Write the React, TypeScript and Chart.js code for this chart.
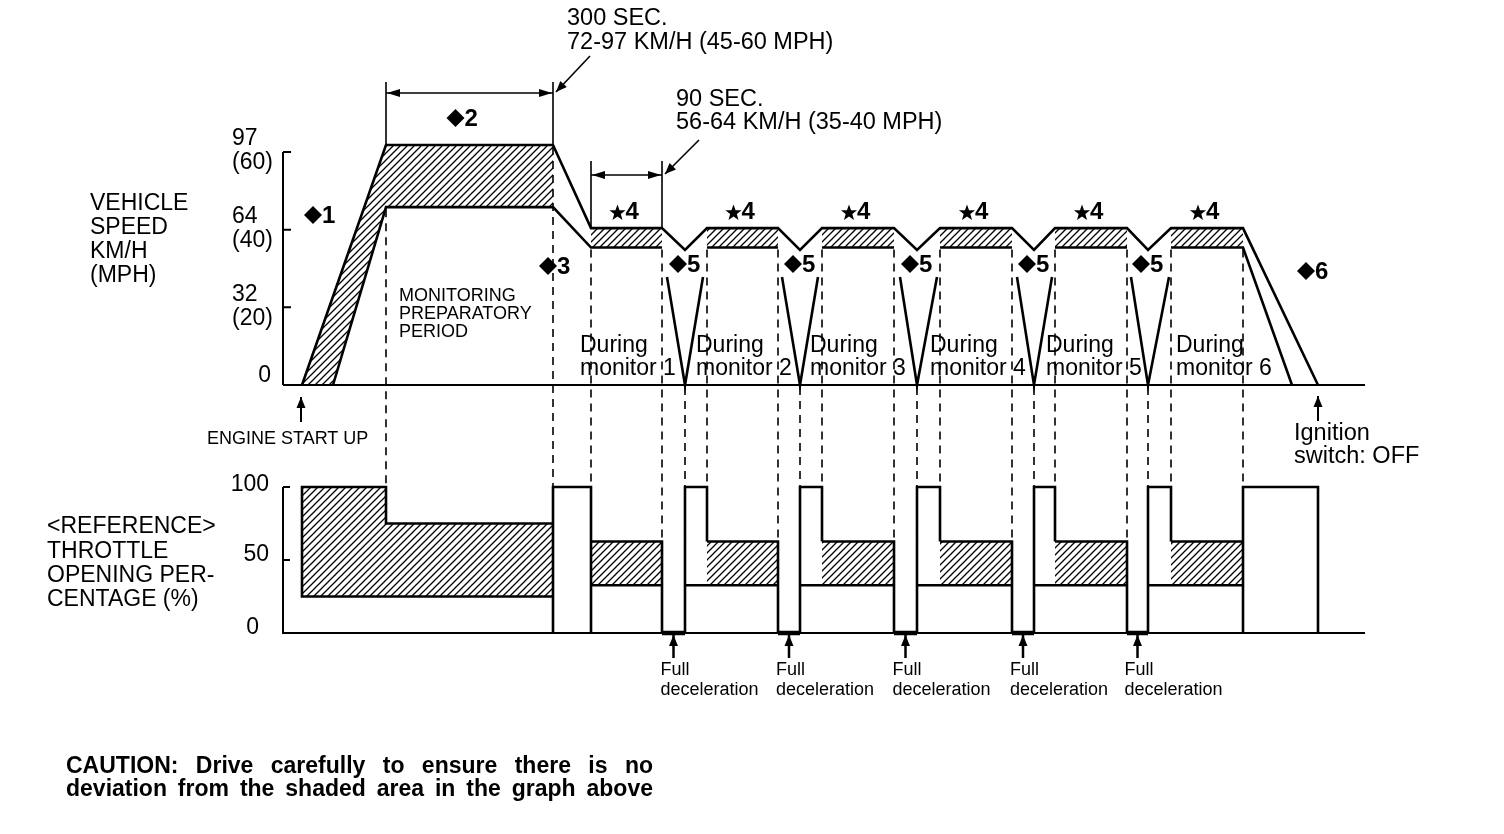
import React, { useEffect, useRef } from "react";
import { Chart, registerables } from "chart.js";
Chart.register(...registerables);

// ---------- time axis (arbitrary drive-cycle time units) ----------
const X_MAX = 1082;
const engineStart = 19;
const rampInnerStart = 50;
const prepStart = 103;
const prepEnd = 270;
const bandStart = [308, 424, 539, 657, 772, 888];
const bandEnd = [379, 495, 611, 729, 844, 960];
const decelBottom = [402, 517, 634, 751, 865];
const decelLeft = [384, 499, 617, 734, 848];
const decelRight = [420, 535, 654, 769, 886];
const stopInnerEnd = 1009;
const ignitionOff = 1035;

// ---------- vehicle speed (MPH) ----------
const prepSpeedHigh = 61.8;
const prepSpeedLow = 45.8;
const monitorSpeedHigh = 40.4;
const monitorSpeedLow = 35.4;
const dipSpeed = 34.8;
const decelTopSpeed = 27.8;

// ---------- throttle opening (%) ----------
const warmThrottleHigh = 100;
const prepThrottleHigh = 75;
const prepThrottleLow = 25;
const monitorThrottleHigh = 62.7;
const monitorThrottleLow = 32.7;
const fullThrottle = 100;

// ---------- ticks ----------
const speedTicksMph = [60, 40, 20];
const speedTickKmh = ["97", "64", "32"];
const speedTickMphLabel = ["(60)", "(40)", "(20)"];
const throttleTicks = [100, 50, 0];

// ---------- text ----------
const speedTitle = ["VEHICLE", "SPEED", "KM/H", "(MPH)"];
const throttleTitle = ["<REFERENCE>", "THROTTLE", "OPENING PER-", "CENTAGE (%)"];
const prepText = ["MONITORING", "PREPARATORY", "PERIOD"];
const cautionLines = [
  "CAUTION: Drive carefully to ensure there is no",
  "deviation from the shaded area in the graph above",
];

// ---------- layout ----------
const W = 1504, H = 834;
const PLOT_LEFT = 283, PLOT_RIGHT = 1365;
const SPEED_ZERO_Y = 385, SPEED_60_Y = 152;
const THR_ZERO_Y = 633, THR_100_Y = 487;
const FONT = '"Liberation Sans", Arial, "DejaVu Sans", sans-serif';
const monitorLabelOffset = [-11, -11, -12, -10, -9, 5];

type Pt = { x: number; y: number | null };
const P = (x: number, y: number | null): Pt => ({ x, y });

function makeHatch(): CanvasPattern | string {
  const c = document.createElement("canvas");
  c.width = 7;
  c.height = 7;
  const g = c.getContext("2d");
  if (!g) return "#888";
  g.strokeStyle = "#000";
  g.lineWidth = 1.3;
  g.beginPath();
  g.moveTo(-1, 8);
  g.lineTo(8, -1);
  g.moveTo(-1, 1);
  g.lineTo(1, -1);
  g.moveTo(6, 8);
  g.lineTo(8, 6);
  g.stroke();
  return g.createPattern(c, "repeat") || "#888";
}

function buildData() {
  // upper speed outline
  const speedOuter: Pt[] = [P(engineStart, 0), P(prepStart, prepSpeedHigh), P(prepEnd, prepSpeedHigh)];
  bandStart.forEach((s, i) => {
    speedOuter.push(P(s, monitorSpeedHigh), P(bandEnd[i], monitorSpeedHigh));
    if (i < decelBottom.length) speedOuter.push(P(decelBottom[i], dipSpeed));
  });
  speedOuter.push(P(ignitionOff, 0));

  // lower speed outline
  const speedInner: Pt[] = [P(rampInnerStart, 0), P(prepStart, prepSpeedLow), P(prepEnd, prepSpeedLow)];
  bandStart.forEach((s, i) => {
    speedInner.push(P(s, monitorSpeedLow), P(bandEnd[i], monitorSpeedLow));
    if (i < bandStart.length - 1) speedInner.push(P(bandEnd[i], null));
  });
  speedInner.push(P(stopInnerEnd, 0));

  // full deceleration V's
  const decelV: Pt[] = [];
  decelBottom.forEach((b, i) => {
    decelV.push(P(decelLeft[i], decelTopSpeed), P(b, 0), P(decelRight[i], decelTopSpeed), P(decelRight[i], null));
  });

  // speed hatch
  const speedHatch: Pt[] = [
    P(engineStart, 0), P(prepStart, prepSpeedHigh), P(prepEnd, prepSpeedHigh),
    P(prepEnd, prepSpeedLow), P(prepStart, prepSpeedLow), P(rampInnerStart, 0), P(rampInnerStart, null),
  ];
  bandStart.forEach((s, i) => {
    speedHatch.push(P(s, monitorSpeedLow), P(s, monitorSpeedHigh), P(bandEnd[i], monitorSpeedHigh),
      P(bandEnd[i], monitorSpeedLow), P(bandEnd[i], null));
  });

  // throttle outline
  const thr: Pt[] = [
    P(prepEnd, prepThrottleLow), P(engineStart, prepThrottleLow), P(engineStart, warmThrottleHigh),
    P(prepStart, warmThrottleHigh), P(prepStart, prepThrottleHigh), P(prepEnd, prepThrottleHigh), P(prepEnd, null),
    P(prepEnd, 0), P(prepEnd, fullThrottle), P(bandStart[0], fullThrottle), P(bandStart[0], 0), P(bandStart[0], null),
  ];
  bandStart.forEach((s, i) => {
    thr.push(P(s, monitorThrottleHigh), P(bandEnd[i], monitorThrottleHigh), P(bandEnd[i], 0), P(bandEnd[i], null));
    const lowStart = i === 0 ? s : decelBottom[i - 1];
    thr.push(P(lowStart, monitorThrottleLow), P(bandEnd[i], monitorThrottleLow), P(bandEnd[i], null));
    if (i < decelBottom.length) {
      thr.push(P(decelBottom[i], 0), P(decelBottom[i], fullThrottle), P(bandStart[i + 1], fullThrottle),
        P(bandStart[i + 1], monitorThrottleHigh), P(bandStart[i + 1], null));
    }
  });
  thr.push(P(bandEnd[5], 0), P(bandEnd[5], fullThrottle), P(ignitionOff, fullThrottle), P(ignitionOff, 0));

  // throttle zero (full deceleration) segments
  const thrZero: Pt[] = [];
  decelBottom.forEach((b, i) => {
    thrZero.push(P(bandEnd[i], 0), P(b, 0), P(b, null));
  });

  // throttle hatch
  const thrHatch: Pt[] = [
    P(engineStart, prepThrottleLow), P(engineStart, warmThrottleHigh), P(prepStart, warmThrottleHigh),
    P(prepStart, prepThrottleHigh), P(prepEnd, prepThrottleHigh), P(prepEnd, prepThrottleLow), P(prepEnd, null),
  ];
  bandStart.forEach((s, i) => {
    thrHatch.push(P(s, monitorThrottleLow), P(s, monitorThrottleHigh), P(bandEnd[i], monitorThrottleHigh),
      P(bandEnd[i], monitorThrottleLow), P(bandEnd[i], null));
  });

  return { speedOuter, speedInner, decelV, speedHatch, thr, thrZero, thrHatch };
}

function arrowHead(ctx: CanvasRenderingContext2D, x: number, y: number, ang: number, len = 11, w = 4.5) {
  ctx.beginPath();
  ctx.moveTo(x, y);
  ctx.lineTo(x - len * Math.cos(ang) + w * Math.sin(ang), y - len * Math.sin(ang) - w * Math.cos(ang));
  ctx.lineTo(x - len * Math.cos(ang) - w * Math.sin(ang), y - len * Math.sin(ang) + w * Math.cos(ang));
  ctx.closePath();
  ctx.fill();
}

function arrow(ctx: CanvasRenderingContext2D, x1: number, y1: number, x2: number, y2: number, lw = 2) {
  ctx.lineWidth = lw;
  ctx.beginPath();
  ctx.moveTo(x1, y1);
  ctx.lineTo(x2, y2);
  ctx.stroke();
  arrowHead(ctx, x2, y2, Math.atan2(y2 - y1, x2 - x1));
}

function diamondLabel(ctx: CanvasRenderingContext2D, cx: number, cy: number, label: string) {
  const r = 9;
  ctx.beginPath();
  ctx.moveTo(cx, cy - r);
  ctx.lineTo(cx + r, cy);
  ctx.lineTo(cx, cy + r);
  ctx.lineTo(cx - r, cy);
  ctx.closePath();
  ctx.fill();
  ctx.font = `bold 24px ${FONT}`;
  ctx.textAlign = "left";
  ctx.textBaseline = "middle";
  ctx.fillText(label, cx + 9, cy + 1);
}

function starLabel(ctx: CanvasRenderingContext2D, cx: number, cy: number, label: string) {
  const sx = cx - 9, ro = 8.5, ri = 3.5;
  ctx.beginPath();
  for (let k = 0; k < 10; k++) {
    const r = k % 2 === 0 ? ro : ri;
    const a = -Math.PI / 2 + (k * Math.PI) / 5;
    const x = sx + r * Math.cos(a), y = cy + 1 + r * Math.sin(a);
    if (k === 0) ctx.moveTo(x, y);
    else ctx.lineTo(x, y);
  }
  ctx.closePath();
  ctx.fill();
  ctx.font = `bold 24px ${FONT}`;
  ctx.textAlign = "left";
  ctx.textBaseline = "middle";
  ctx.fillText(label, sx + 8, cy);
}

function justified(ctx: CanvasRenderingContext2D, text: string, x: number, y: number, width: number) {
  const words = text.split(" ");
  const total = words.reduce((a, w) => a + ctx.measureText(w).width, 0);
  const gap = (width - total) / (words.length - 1);
  let cx = x;
  words.forEach((w) => {
    ctx.fillText(w, cx, y);
    cx += ctx.measureText(w).width + gap;
  });
}

const decor = {
  id: "decor",
  afterDatasetsDraw(chart: any) {
    const ctx: CanvasRenderingContext2D = chart.ctx;
    const xs = chart.scales.x, ys = chart.scales.ySpeed, yt = chart.scales.yThr;
    const px = (v: number) => xs.getPixelForValue(v);
    const ps = (v: number) => ys.getPixelForValue(v);
    const pt = (v: number) => yt.getPixelForValue(v);
    ctx.save();
    ctx.fillStyle = "#000";
    ctx.strokeStyle = "#000";
    ctx.lineCap = "butt";

    // ---- axes ----
    const x0 = px(0), x1 = px(X_MAX);
    ctx.lineWidth = 2;
    ctx.beginPath();
    ctx.moveTo(x0, ps(speedTicksMph[0]));
    ctx.lineTo(x0, ps(0));
    ctx.moveTo(x0, ps(0));
    ctx.lineTo(x1, ps(0));
    ctx.moveTo(x0, pt(throttleTicks[0]));
    ctx.lineTo(x0, pt(0));
    ctx.lineTo(x1, pt(0));
    speedTicksMph.forEach((t) => {
      ctx.moveTo(x0, ps(t));
      ctx.lineTo(x0 + 8, ps(t));
    });
    throttleTicks.slice(0, 2).forEach((t) => {
      ctx.moveTo(x0, pt(t));
      ctx.lineTo(x0 + 7, pt(t));
    });
    ctx.stroke();

    ctx.font = `23px ${FONT}`;
    ctx.textBaseline = "middle";
    ctx.textAlign = "left";
    speedTicksMph.forEach((t, i) => {
      ctx.fillText(speedTickKmh[i], 232, ps(t) - 13);
      ctx.fillText(speedTickMphLabel[i], 232, ps(t) + 11);
    });
    ctx.textAlign = "right";
    ctx.fillText("0", 271, ps(0) - 9);
    ctx.fillText(String(throttleTicks[0]), 269, pt(throttleTicks[0]) - 2);
    ctx.fillText(String(throttleTicks[1]), 269, pt(throttleTicks[1]) - 5);
    ctx.fillText(String(throttleTicks[2]), 259, pt(throttleTicks[2]) - 5);

    ctx.textAlign = "left";
    speedTitle.forEach((s, i) => ctx.fillText(s, 90, 204 + i * 24));
    throttleTitle.forEach((s, i) => ctx.fillText(s, 47, 527 + i * 24.3));

    // ---- dashed verticals ----
    const dashed: [number, number, number][] = [
      [prepStart, prepSpeedLow, warmThrottleHigh],
      [prepEnd, prepSpeedHigh, fullThrottle],
      [bandStart[0], monitorSpeedLow, fullThrottle],
    ];
    decelBottom.forEach((b, i) => {
      dashed.push([bandEnd[i], monitorSpeedLow, monitorThrottleHigh]);
      dashed.push([b, 0, fullThrottle]);
      dashed.push([bandStart[i + 1], monitorSpeedLow, fullThrottle]);
    });
    dashed.push([bandEnd[5], monitorSpeedLow, fullThrottle]);
    ctx.lineWidth = 1.6;
    ctx.setLineDash([8, 6]);
    ctx.beginPath();
    dashed.forEach(([x, s, t]) => {
      ctx.moveTo(px(x), ps(s) + 2);
      ctx.lineTo(px(x), pt(t));
    });
    ctx.stroke();
    ctx.setLineDash([]);

    // ---- dimension brackets ----
    ctx.lineWidth = 1.6;
    const y300 = 93, y90 = 175;
    ctx.beginPath();
    [prepStart, prepEnd].forEach((x) => {
      ctx.moveTo(px(x), 82);
      ctx.lineTo(px(x), ps(prepSpeedHigh));
    });
    [bandStart[0], bandEnd[0]].forEach((x) => {
      ctx.moveTo(px(x), 161);
      ctx.lineTo(px(x), ps(monitorSpeedHigh));
    });
    ctx.moveTo(px(prepStart), y300);
    ctx.lineTo(px(prepEnd), y300);
    ctx.moveTo(px(bandStart[0]), y90);
    ctx.lineTo(px(bandEnd[0]), y90);
    ctx.stroke();
    arrowHead(ctx, px(prepStart) + 1, y300, Math.PI, 13, 4);
    arrowHead(ctx, px(prepEnd) - 1, y300, 0, 13, 4);
    arrowHead(ctx, px(bandStart[0]) + 1, y90, Math.PI, 13, 4);
    arrowHead(ctx, px(bandEnd[0]) - 1, y90, 0, 13, 4);
    arrow(ctx, px(prepEnd) + 37, 56, px(prepEnd) + 3, 92, 1.6);
    arrow(ctx, px(bandEnd[0]) + 37, 140, px(bandEnd[0]) + 3, 174, 1.6);

    ctx.font = `23.5px ${FONT}`;
    ctx.textAlign = "left";
    ctx.textBaseline = "middle";
    ctx.fillText("300 SEC.", 567, 19);
    ctx.fillText("72-97 KM/H (45-60 MPH)", 567, 43);
    ctx.fillText("90 SEC.", 676, 100);
    ctx.fillText("56-64 KM/H (35-40 MPH)", 676, 123);

    // ---- markers ----
    diamondLabel(ctx, 313, 215, "1");
    diamondLabel(ctx, (px(prepStart) + px(prepEnd)) / 2 - 14, 118, "2");
    diamondLabel(ctx, px(prepEnd) - 5, 266, "3");
    decelBottom.forEach((b) => diamondLabel(ctx, px(b) - 7, 264, "5"));
    diamondLabel(ctx, px(ignitionOff) - 12, 271, "6");
    bandStart.forEach((s, i) => starLabel(ctx, (px(s) + px(bandEnd[i])) / 2, 212, "4"));

    // ---- texts ----
    ctx.font = `18px ${FONT}`;
    ctx.textAlign = "left";
    prepText.forEach((s, i) => ctx.fillText(s, px(prepStart) + 13, 296 + i * 18));

    ctx.font = `23px ${FONT}`;
    bandStart.forEach((s, i) => {
      const lx = px(s) + monitorLabelOffset[i];
      ctx.fillText("During", lx, 346);
      ctx.fillText(`monitor ${i + 1}`, lx, 369);
    });

    ctx.font = `18px ${FONT}`;
    ctx.fillText("ENGINE START UP", 207, 439);
    arrow(ctx, px(engineStart) - 1, 422, px(engineStart) - 1, 397, 2);

    ctx.font = `23.5px ${FONT}`;
    ctx.fillText("Ignition", 1294, 434);
    ctx.fillText("switch: OFF", 1294, 457);
    arrow(ctx, px(ignitionOff), 421, px(ignitionOff), 396, 2);

    ctx.font = `18px ${FONT}`;
    decelBottom.forEach((b, i) => {
      const cx = (px(bandEnd[i]) + px(b)) / 2;
      arrow(ctx, cx, 658, cx, 635, 2.5);
      ctx.fillText("Full", cx - 13, 670);
      ctx.fillText("deceleration", cx - 13, 690);
    });

    ctx.font = `bold 23px ${FONT}`;
    cautionLines.forEach((s, i) => justified(ctx, s, 66, 767 + i * 23, 587));

    ctx.restore();
  },
};

export default function App() {
  const ref = useRef<HTMLCanvasElement>(null);
  useEffect(() => {
    const canvas = ref.current;
    if (!canvas) return;
    const hatch = makeHatch();
    const d = buildData();
    const mphPerPx = 60 / (SPEED_ZERO_Y - SPEED_60_Y);
    const pctPerPx = 100 / (THR_ZERO_Y - THR_100_Y);
    const outline = (data: Pt[], yAxisID: string, w: number) => ({
      data, yAxisID, borderColor: "#000", borderWidth: w, pointRadius: 0, fill: false, spanGaps: false,
      borderJoinStyle: "miter" as const,
    });
    const hatchSet = (data: Pt[], yAxisID: string) => ({
      data, yAxisID, borderColor: "rgba(0,0,0,0)", borderWidth: 1, pointRadius: 0,
      backgroundColor: hatch, fill: "shape", spanGaps: false,
    });
    const chart = new Chart(canvas, {
      type: "line",
      data: {
        datasets: [
          outline(d.speedOuter, "ySpeed", 2.6),
          outline(d.speedInner, "ySpeed", 2.6),
          outline(d.decelV, "ySpeed", 2.6),
          outline(d.thr, "yThr", 2.6),
          outline(d.thrZero, "yThr", 4.5),
          hatchSet(d.speedHatch, "ySpeed"),
          hatchSet(d.thrHatch, "yThr"),
        ] as any,
      },
      options: {
        animation: false,
        responsive: false,
        devicePixelRatio: 1,
        events: [],
        layout: { padding: { left: PLOT_LEFT, right: W - PLOT_RIGHT, top: 0, bottom: 0 } },
        plugins: { legend: { display: false }, tooltip: { enabled: false } },
        elements: { point: { radius: 0 }, line: { tension: 0 } },
        scales: {
          x: { type: "linear", min: 0, max: X_MAX, display: false },
          ySpeed: { type: "linear", min: -(H - SPEED_ZERO_Y) * mphPerPx, max: SPEED_ZERO_Y * mphPerPx, display: false },
          yThr: { type: "linear", min: -(H - THR_ZERO_Y) * pctPerPx, max: THR_ZERO_Y * pctPerPx, display: false },
        },
      } as any,
      plugins: [decor],
    });
    return () => chart.destroy();
  }, []);
  return (
    <div style={{ position: "fixed", left: 0, top: 0, width: W, height: H, background: "#fff" }}>
      <canvas ref={ref} width={W} height={H} style={{ display: "block" }} />
    </div>
  );
}
